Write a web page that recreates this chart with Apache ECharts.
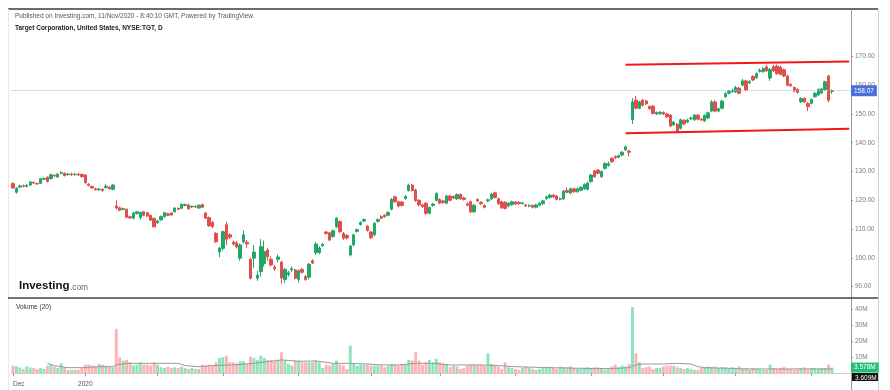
<!DOCTYPE html>
<html><head><meta charset="utf-8">
<script src="https://cdn.jsdelivr.net/npm/echarts@6/dist/echarts.min.js"></script>
<style>html,body{margin:0;padding:0;background:#fff}#c{width:890px;height:390px}</style>
</head><body><div id="c"></div>
<script>
// ---- DATA: daily candles [open, close, low, high] per month ----
const dec19 = [[125.8,124.3,124.0,126.3],[122.8,124.2,122.3,124.6],[124.6,125.0,124.2,125.4],[125.0,124.9,124.5,125.5],[124.8,125.2,124.5,125.6],[125.3,126.4,125.0,126.7],[126.2,126.0,125.7,126.6],[125.8,125.7,125.3,126.2],[125.9,127.5,125.6,127.8],[127.3,127.6,127.0,128.0],[128.0,126.5,126.2,128.3],[127.5,128.9,127.2,129.2],[128.7,128.5,128.1,129.0],[128.1,129.1,127.8,129.4],[129.4,129.7,129.0,130.0],[129.4,128.6,128.3,129.7],[128.9,129.1,128.6,129.5],[129.1,128.9,128.5,129.6],[128.9,129.0,128.6,129.5],[129.0,128.8,128.4,129.6],[129.0,128.2,127.9,129.3]];
const jan20 = [[128.8,126.1,125.8,129.0],[125.6,125.2,124.8,126.0],[124.8,124.3,124.0,125.2],[124.0,123.7,123.4,124.4],[123.7,123.9,123.3,124.3],[123.8,123.4,123.0,124.1],[124.4,124.9,124.1,125.6],[124.5,124.0,123.7,124.9],[123.8,125.3,123.5,125.6],[118.0,117.3,116.8,120.0],[117.4,116.5,116.2,117.8],[116.8,117.1,116.5,117.5],[116.9,114.1,113.8,117.2],[114.3,113.9,113.5,114.7],[113.8,115.6,113.4,115.9],[115.4,116.0,115.0,116.3],[114.0,115.8,113.3,116.1],[116.0,114.8,114.5,116.3],[115.7,114.5,114.2,116.0],[114.8,113.1,112.8,115.0],[113.7,110.8,110.5,114.0]];
const feb20 = [[112.2,112.8,111.8,113.2],[113.2,114.4,112.9,114.7],[114.3,115.7,114.0,116.0],[115.3,114.8,114.5,115.7],[115.6,114.9,114.6,115.9],[116.0,117.3,115.7,117.6],[117.2,116.9,116.6,117.5],[117.2,118.6,116.9,118.9],[118.2,118.5,117.9,118.9],[118.4,117.0,116.8,118.7],[117.7,117.9,117.3,118.2],[117.9,117.7,117.4,118.2],[117.3,118.3,117.0,118.6],[118.5,117.6,117.3,118.8],[115.6,113.8,113.5,116.0],[114.0,111.1,110.8,114.4],[112.4,110.8,110.3,112.8],[108.5,105.6,105.2,109.0],[102.0,103.4,100.2,103.8]];
const mar20 = [[103.3,109.1,102.5,109.5],[111.5,106.5,104.5,112.5],[108.0,107.2,106.5,108.6],[105.5,104.8,104.2,106.0],[105.2,103.8,103.2,105.8],[99.9,104.5,99.0,105.0],[105.5,108.0,105.0,109.5],[105.4,104.8,103.5,106.2],[99.5,92.9,92.5,100.0],[99.9,102.0,96.5,104.5],[92.9,94.0,92.0,95.5],[95.2,103.9,93.5,106.5],[98.0,102.2,97.0,106.0],[102.7,100.4,99.0,103.5],[99.5,97.5,97.0,100.5],[96.8,96.2,95.5,97.5],[99.5,100.3,98.5,101.2],[98.5,93.0,91.0,99.0],[92.5,96.0,91.3,96.5],[94.2,94.8,93.5,95.5],[95.8,96.2,95.0,97.0],[95.8,92.9,92.5,96.2]];
const apr20 = [[92.5,95.5,91.5,96.0],[96.0,95.0,94.5,96.5],[93.5,92.5,92.0,94.0],[93.3,97.8,92.5,98.2],[99.0,98.2,97.8,99.5],[101.8,104.8,101.0,105.5],[101.8,103.4,101.3,104.0],[104.2,104.7,103.8,105.2],[109.0,108.5,108.0,109.3],[108.7,106.2,105.8,109.0],[107.4,109.4,107.0,109.8],[110.8,113.8,110.3,114.2],[112.6,109.1,108.6,113.0],[108.5,106.8,106.2,109.0],[107.8,106.9,106.4,108.2],[101.0,104.1,100.5,104.5],[104.5,108.0,104.0,108.4],[109.2,109.8,108.8,110.2],[111.6,112.3,111.2,112.7],[112.8,113.3,112.4,113.7],[111.0,109.5,109.1,111.4]];
const may20 = [[109.0,107.0,106.6,109.4],[108.0,112.0,107.5,112.4],[112.7,113.3,112.3,113.7],[114.3,113.8,113.4,114.8],[114.8,114.3,113.9,115.2],[114.8,115.8,114.4,116.2],[116.9,120.3,116.5,120.8],[121.2,119.5,119.1,121.6],[119.5,118.0,117.6,119.9],[119.4,118.2,117.8,119.8],[120.6,121.3,120.2,121.8],[123.4,125.3,123.0,125.8],[125.3,123.4,123.0,125.7],[123.6,119.9,119.5,124.0],[120.0,118.4,118.0,120.4],[118.4,117.8,117.4,118.8],[119.0,115.5,115.0,119.4],[115.5,117.5,115.1,117.9],[118.2,118.7,117.8,119.1],[120.0,122.4,119.6,122.8]];
const jun20 = [[120.3,119.0,118.6,120.7],[119.8,119.2,118.8,120.2],[119.0,121.5,118.6,121.9],[121.5,120.0,119.6,121.9],[121.3,120.8,120.4,121.7],[120.5,122.0,120.1,122.4],[122.0,120.5,120.1,122.4],[120.8,120.3,119.9,121.2],[118.8,118.3,117.9,119.2],[119.5,116.0,115.5,119.9],[116.0,118.3,115.6,118.7],[120.3,119.8,119.4,120.7],[119.3,118.8,118.4,119.7],[118.2,117.6,117.2,118.6],[119.8,120.2,119.4,120.6],[120.5,122.2,120.1,122.6],[122.6,121.0,120.6,123.0],[120.5,118.8,118.4,120.9],[119.5,117.4,117.0,119.9],[119.3,117.2,116.8,119.7],[118.0,119.0,117.6,119.4],[118.5,119.5,118.1,119.9]];
const jul20 = [[119.4,118.7,118.3,119.8],[119.3,118.8,118.4,119.7],[118.9,119.1,118.5,119.5],[118.4,118.1,117.7,118.8],[118.0,118.2,117.6,118.6],[118.2,117.6,117.2,118.6],[117.6,118.4,117.2,118.8],[118.3,119.0,117.9,119.4],[118.8,119.8,118.4,120.2],[120.6,121.2,120.2,121.6],[121.0,121.8,120.6,122.2],[121.8,121.2,120.8,122.2],[121.5,120.3,119.9,121.9],[120.4,120.6,120.0,121.0],[120.5,123.2,120.1,123.6],[123.4,122.8,122.4,124.5],[122.5,124.0,122.1,124.4],[124.0,123.0,122.6,124.4],[123.0,124.0,122.6,124.4],[123.5,124.5,123.1,124.9],[124.0,125.5,123.6,125.9],[123.8,126.0,123.4,126.4]];
const aug20 = [[126.5,128.8,126.1,129.2],[130.2,128.2,127.8,130.6],[130.5,129.4,129.0,130.9],[128.2,130.0,127.8,130.4],[131.1,132.8,130.7,133.2],[132.1,132.7,131.7,133.5],[134.6,133.4,133.0,135.0],[135.2,134.8,134.4,135.6],[135.0,135.5,134.6,135.9],[135.7,136.7,135.3,137.1],[137.5,138.6,137.1,139.0],[137.1,136.7,135.3,137.6],[148.0,154.2,146.5,155.5],[154.8,152.0,151.6,156.3],[152.0,154.2,151.6,154.6],[154.8,153.0,152.6,155.2],[154.5,153.5,153.1,154.9],[152.6,151.8,151.4,153.0],[152.7,150.2,149.8,153.1],[150.0,150.5,149.6,150.9],[150.1,150.6,149.7,151.0]];
const sep20 = [[150.5,150.0,149.6,150.9],[150.0,149.0,148.6,150.4],[149.6,145.8,145.4,150.0],[146.2,147.2,145.8,147.6],[146.5,143.8,143.4,146.9],[145.0,148.0,144.6,148.4],[147.8,146.5,146.1,148.2],[147.2,147.9,146.8,148.3],[148.3,148.6,147.9,149.0],[148.0,149.6,147.6,150.0],[149.6,148.2,147.8,150.0],[148.2,147.9,147.5,148.6],[147.6,149.5,147.2,149.9],[148.6,150.4,148.2,150.8],[151.0,154.2,150.6,154.8],[154.2,151.0,150.6,154.8],[151.0,151.8,150.6,152.2],[152.0,154.5,151.6,154.9],[156.0,157.0,155.6,157.6],[157.2,157.8,156.8,158.4],[157.8,158.2,157.4,158.8]];
const oct20 = [[157.7,159.2,157.3,159.8],[159.0,157.2,156.8,159.4],[160.0,161.5,159.6,162.2],[161.5,158.3,157.9,161.9],[160.8,161.2,160.4,161.8],[163.0,161.8,161.4,163.5],[162.6,164.0,162.2,164.5],[164.8,165.2,164.4,165.8],[164.7,165.8,164.3,166.3],[166.4,165.0,164.6,166.9],[162.5,165.5,161.5,166.0],[166.4,165.0,164.6,167.0],[166.6,164.0,163.6,167.2],[166.3,163.8,163.4,166.8],[165.4,163.2,162.8,165.8],[163.2,160.0,159.6,163.6],[160.3,159.8,159.4,160.7],[159.2,158.0,157.6,159.6],[158.5,157.5,157.1,158.9],[154.2,155.4,153.8,155.8],[155.4,154.2,153.8,155.8],[153.7,152.5,151.0,154.1]];
const nov20 = [[153.7,155.0,153.3,155.4],[156.0,157.2,155.6,157.6],[156.6,158.5,156.2,158.9],[157.3,158.7,156.9,159.1],[158.5,161.2,158.1,161.6],[163.2,154.8,154.0,163.6],[157.8,158.07,157.0,158.6]];

// ---- DATA: daily volume in millions per month ----
const volDec19 = [4.8,4.4,3.7,2.7,4.4,3.7,3.3,2.7,3.3,2.7,4.8,5.8,4.2,3.3,6.2,3.7,2.1,2.1,2.1,2.1,3.3];
const volJan20 = [5.4,5.4,4.8,4.2,5.8,5.4,4.8,4.2,3.7,27.7,10.0,7.9,8.3,6.9,4.8,5.4,6.9,5.4,5.4,4.8,6.9];
const volFeb20 = [5.4,3.8,3.3,4.2,3.3,3.8,3.3,4.2,3.3,2.7,3.3,2.7,2.7,5.4,4.8,5.4,4.8,6.9,9.6];
const volMar20 = [10.0,11.0,6.9,6.9,6.2,7.5,7.5,5.8,10.4,9.6,8.3,11.0,9.6,8.3,8.3,7.5,8.3,13.1,8.3,5.8,4.8,7.9];
const volApr20 = [7.9,6.9,6.9,6.9,6.9,7.9,6.9,3.3,5.4,4.8,6.2,7.9,5.4,4.8,2.7,17.3,5.8,4.8,5.4,5.4,5.4];
const volMay20 = [4.8,4.8,4.8,5.4,3.8,4.8,5.8,5.4,4.8,5.8,5.8,8.3,7.9,13.1,7.9,5.4,6.9,8.3,6.9,9.0];
const volJun20 = [6.9,6.2,5.8,3.8,4.8,4.2,2.7,3.3,4.8,5.4,5.4,4.8,5.4,4.8,12.5,5.8,4.8,4.2,2.7,6.9,3.8,3.3];
const volJul20 = [2.7,2.1,3.3,4.2,3.3,2.7,2.1,2.7,3.8,3.3,4.2,3.3,2.7,4.2,3.8,3.8,4.2,3.3,2.7,2.7,3.3,3.8];
const volAug20 = [3.3,3.8,3.8,3.3,2.1,2.7,4.2,5.4,3.8,4.8,4.2,5.8,41.3,12.5,6.9,3.3,3.8,4.2,2.7,3.3,3.3];
const volSep20 = [4.2,4.8,4.8,4.8,3.8,3.3,2.7,3.3,2.7,2.1,2.1,3.3,3.8,4.2,3.8,4.2,3.3,3.8,3.8,3.3,3.8];
const volOct20 = [3.3,4.2,2.7,3.3,2.1,3.3,2.7,2.7,2.1,2.1,5.4,3.3,2.7,3.3,3.8,2.7,2.7,2.1,2.7,3.3,3.8,2.7];
const volNov20 = [3.3,3.3,2.7,3.3,3.3,5.4,3.578];

// ---- DATA: volume moving average (20), read points [bar index, millions] ----
const volMA = [[10,6.25],[12,4.75],[16,3.5],[20,3.5],[25,4.1],[29,4.1],[30,5.2],[33,6.2],[48,6.2],[50,4.8],[54,4.1],[58,4.8],[64,5.2],[70,6.2],[74,7.3],[78,8.3],[81,7.9],[83,7.5],[88,7.7],[93,6.2],[98,6.2],[103,5.8],[107,5.2],[112,5.2],[117,6.2],[122,6.2],[127,5.2],[136,5.2],[141,4.8],[146,4.1],[151,3.8],[156,3.5],[161,3.3],[165,3.1],[170,2.9],[176,3.1],[179,3.5],[181,5.2],[183,5.8],[189,5.8],[193,6.2],[197,5.8],[199,4.1],[201,3.5],[208,3.1],[213,2.7],[238,2.7]];

// ---- DATA: channel trendlines [bar index, price] and last values ----
const upperLine = [[178,167.1],[243,168.2]];
const lowerLine = [[178,143.3],[243,144.9]];
const lastPrice = 158.07;
const lastVolume = 3.578;
const priceTicks = [90,100,110,120,130,140,150,160,170];
const volTicks = [10,20,30,40];
const holidays = ['2019-12-25','2020-01-01','2020-01-20','2020-02-17','2020-04-10','2020-05-25','2020-07-03','2020-09-07'];
const futureBars = 5;

// ---- build ----
const ohlc = [].concat(dec19,jan20,feb20,mar20,apr20,may20,jun20,jul20,aug20,sep20,oct20,nov20);
const vol = [].concat(volDec19,volJan20,volFeb20,volMar20,volApr20,volMay20,volJun20,volJul20,volAug20,volSep20,volOct20,volNov20);
const dates = [];
{ const d = new Date(Date.UTC(2019,11,2));
  while (dates.length < ohlc.length + futureBars) {
    const dow = d.getUTCDay(); const s = d.toISOString().slice(0,10);
    if (dow !== 0 && dow !== 6 && holidays.indexOf(s) < 0) dates.push(s);
    d.setUTCDate(d.getUTCDate() + 1);
  } }
const monthStart = dates.map((s,i) => i === 0 || s.slice(0,7) !== dates[i-1].slice(0,7));
const showLabel = (i) => i === 0 || (monthStart[i] && dates[i].slice(5,7) === '01');

const UP = '#22a767', DOWN = '#df4f4b', VUP = '#90e2bd', VDOWN = '#fbb4b2';
const FONT = '"Liberation Sans", Arial, sans-serif';

const chart = echarts.init(document.getElementById('c'), null, {renderer:'canvas'});
chart.setOption({
  animation: false,
  backgroundColor: '#fff',
  textStyle: {fontFamily: FONT},
  grid: [
    {left: 11.3, right: 39, top: 40, height: 257, outerBoundsMode: 'none'},
    {left: 11.3, right: 39, top: 298, height: 78, outerBoundsMode: 'none'}
  ],
  xAxis: [
    {type:'category', gridIndex:0, data: dates, boundaryGap:true,
     axisLine:{show:false}, axisTick:{show:false}, axisLabel:{show:false}, splitLine:{show:false}},
    {type:'category', gridIndex:1, data: dates, boundaryGap:true,
     axisLine:{show:true, lineStyle:{color:'#cfcfcf', width:1}},
     axisTick:{show:true, alignWithLabel:true, length:3, interval:(i)=>monthStart[i], lineStyle:{color:'#9a9a9a'}},
     axisLabel:{show:true, interval:(i)=>showLabel(i), fontSize:6.5, color:'#555', margin:5, fontFamily:FONT,
       alignMinLabel:'left',
       formatter:(v)=> v.slice(5,7)==='12' ? 'Dec' : (v.slice(5,7)==='01' ? v.slice(0,4) : '')},
     splitLine:{show:false}}
  ],
  yAxis: [
    {type:'value', gridIndex:0, position:'right', min:86.4, max:175.7, scale:true,
     axisLine:{show:false}, splitLine:{show:false},
     axisTick:{show:true, length:2, customValues: priceTicks, lineStyle:{color:'#999'}},
     axisLabel:{show:true, customValues: priceTicks, fontSize:6.5, color:'#7a7a7a', margin:4, fontFamily:FONT,
       formatter:(v)=>v.toFixed(2)}},
    {type:'value', gridIndex:1, position:'right', min:-1.7, max:47,
     axisLine:{show:false}, splitLine:{show:false},
     axisTick:{show:true, length:2, customValues: volTicks, lineStyle:{color:'#999'}},
     axisLabel:{show:true, customValues: volTicks, fontSize:6.5, color:'#7a7a7a', margin:4, fontFamily:FONT,
       formatter:(v)=>v+'M'}}
  ],
  series: [
    {type:'candlestick', xAxisIndex:0, yAxisIndex:0, data: ohlc, barWidth: 2.9,
     itemStyle:{color:UP, color0:DOWN, borderColor:UP, borderColor0:DOWN, borderWidth:1},
     markLine:{silent:true, symbol:['none','none'], animation:false,
       data:[
         {yAxis:lastPrice, lineStyle:{color:'#a9b7ee', type:'dotted', width:1},
          label:{show:true, position:'end', distance:0, formatter: lastPrice.toFixed(2), color:'#fff',
                 backgroundColor:'#4a6fdc', fontSize:6.5, padding:[2,3,2,3], fontFamily:FONT}},
         [{coord: upperLine[0], lineStyle:{color:'#f21818', width:2, type:'solid'}, label:{show:false}}, {coord: upperLine[1]}],
         [{coord: lowerLine[0], lineStyle:{color:'#f21818', width:2, type:'solid'}, label:{show:false}}, {coord: lowerLine[1]}]
       ]}},
    {type:'bar', xAxisIndex:1, yAxisIndex:1, barWidth:2.9,
     data: vol.map((v,i)=>({value:v, itemStyle:{color: ohlc[i][1] >= ohlc[i][0] ? VUP : VDOWN}})),
     markLine:{silent:true, symbol:['none','none'], animation:false, z:10,
       data:[{yAxis:lastVolume, lineStyle:{color:'rgba(0,0,0,0)', width:1},
          label:{show:true, position:'end', distance:0, formatter: lastVolume.toFixed(3)+'M', color:'#fff',
                 backgroundColor:'#22bf7b', fontSize:6.5, padding:[1.5,3,1.5,3], fontFamily:FONT}}]}},
    {type:'line', xAxisIndex:1, yAxisIndex:1, data: volMA, showSymbol:false, symbol:'none',
     lineStyle:{color:'#9a9a9a', width:1}, z:3}
  ],
  graphic: [
    {type:'line', z:-1, shape:{x1:8,y1:9,x2:878,y2:9}, style:{stroke:'#3a3a3a', lineWidth:1.5}},
    {type:'line', z:-1, shape:{x1:8.5,y1:9,x2:8.5,y2:390}, style:{stroke:'#e8e8e8', lineWidth:1}},
    {type:'line', z:-1, shape:{x1:878.5,y1:9,x2:878.5,y2:390}, style:{stroke:'#cfcfcf', lineWidth:1}},
    {type:'line', z:-1, shape:{x1:851.5,y1:9,x2:851.5,y2:390}, style:{stroke:'#9a9a9a', lineWidth:1}},
    {type:'line', z:-1, shape:{x1:8,y1:298,x2:878,y2:298}, style:{stroke:'#444', lineWidth:1.5}},
    {type:'text', left:15, top:13, style:{text:'Published on Investing.com, 11/Nov/2020 - 8:40:10 GMT, Powered by TradingView.', fontSize:6.5, fill:'#555', fontFamily:FONT}},
    {type:'text', left:15, top:25, style:{text:'Target Corporation, United States, NYSE:TGT, D', fontSize:6.5, fontWeight:'bold', fill:'#222', fontFamily:FONT}},
    {type:'text', left:16, top:304, style:{text:'Volume (20)', fontSize:6.5, fill:'#333', fontFamily:FONT}},
    {type:'text', left:19, top:280, style:{text:'Investing', fontSize:11.5, fontWeight:'bold', fill:'#111', fontFamily:FONT}},
    {type:'text', left:70, top:284, style:{text:'.com', fontSize:8.3, fill:'#666', fontFamily:FONT}},
    {type:'rect', z:-1, shape:{x:852,y:373,width:26,height:8}, style:{fill:'#111'}},
    {type:'text', z:-1, left:855, top:374.5, style:{text:'3.609M', fontSize:6.5, fill:'#fff', fontFamily:FONT}}
  ]
});
</script>
</body></html>
